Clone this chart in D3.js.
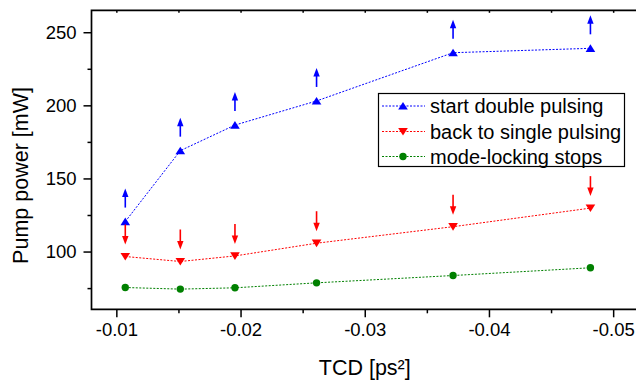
<!DOCTYPE html>
<html>
<head>
<meta charset="utf-8">
<script src="https://cdn.jsdelivr.net/npm/d3@7/dist/d3.min.js"></script>
<style>
  html, body { margin: 0; padding: 0; background: #fff; }
  svg { display: block; font-family: "Liberation Sans", Arial, sans-serif; }
</style>
</head>
<body>
<svg id="chart" width="636" height="380"></svg>
<script>
// ---- data ----
const tcd = [-0.01072, -0.01515, -0.01955, -0.02612, -0.03711, -0.04817];
const startDouble = [120.5, 169, 186.5, 203, 236, 239];
const backSingle = [96.6, 93.2, 97, 105.7, 117, 129.7];
const modeLockStops = [75.4, 74.3, 75.2, 78.6, 83.6, 88.9];
const seriesNames = ["start double pulsing", "back to single pulsing", "mode-locking stops"];
const xTickValues = [-0.01, -0.02, -0.03, -0.04, -0.05];
const xTickLabels = ["-0.01", "-0.02", "-0.03", "-0.04", "-0.05"];
const xMinorValues = [-0.015, -0.025, -0.035, -0.045];
const yTickValues = [100, 150, 200, 250];
const yTickLabels = ["100", "150", "200", "250"];
const yMinorValues = [75, 125, 175, 225];
const xTitle = "TCD [ps²]";
const yTitle = "Pump power [mW]";

// ---- layout ----
const L = 91.5, R = 638, T = 10.3, B = 309.3;
const svg = d3.select("#chart");
const x = d3.scaleLinear().domain([-0.008, -0.052]).range([L, R]);
const y = d3.scaleLinear().domain([60.5, 265]).range([B, T]);

const colors = ["#0000ff", "#ff0000", "#008000"];
const series = [startDouble, backSingle, modeLockStops];
const shapes = ["up", "down", "circle"];

// axes
const xAxis = d3.axisBottom(x).tickValues(xTickValues)
  .tickFormat((d, i) => xTickLabels[i]).tickSize(8).tickSizeOuter(0).tickPadding(6);
const gx = svg.append("g").attr("transform", `translate(0,${B})`).call(xAxis);
const xMinor = d3.axisBottom(x).tickValues(xMinorValues).tickFormat("").tickSize(4).tickSizeOuter(0);
const gxm = svg.append("g").attr("transform", `translate(0,${B})`).call(xMinor);

const yAxis = d3.axisLeft(y).tickValues(yTickValues)
  .tickFormat((d, i) => yTickLabels[i]).tickSize(8).tickSizeOuter(0).tickPadding(7);
const gy = svg.append("g").attr("transform", `translate(${L},0)`).call(yAxis);
const yMinor = d3.axisLeft(y).tickValues(yMinorValues).tickFormat("").tickSize(4).tickSizeOuter(0);
const gym = svg.append("g").attr("transform", `translate(${L},0)`).call(yMinor);

// top mirror ticks (small, inward)
const xTop = d3.axisBottom(x).tickValues(xTickValues.concat(xMinorValues)).tickFormat("").tickSize(2.5).tickSizeOuter(0);
const gxt = svg.append("g").attr("transform", `translate(0,${T})`).call(xTop);

[gx, gxm, gy, gym, gxt].forEach(g => {
  g.select(".domain").remove();
  g.selectAll("line").attr("stroke", "#000").attr("stroke-width", 1.5);
  g.selectAll("text").attr("fill", "#000").attr("font-size", 18.5)
    .attr("font-family", "'Liberation Sans', Arial, sans-serif");
});

// frame
svg.append("path")
  .attr("d", `M${R + 5},${T} L${L},${T} L${L},${B} L${R + 5},${B}`)
  .attr("fill", "none").attr("stroke", "#000").attr("stroke-width", 1.7);

// titles
svg.append("text").attr("x", (L + R) / 2).attr("y", 375)
  .attr("text-anchor", "middle").attr("font-size", 21.5).attr("fill", "#000").text(xTitle);
svg.append("text").attr("transform", "rotate(-90)")
  .attr("x", -175.5).attr("y", 27.5)
  .attr("text-anchor", "middle").attr("font-size", 21.5).attr("fill", "#000").text(yTitle);

// marker helper
function marker(g, shape, cx, cy, color) {
  if (shape === "up") {
    g.append("path").attr("d", `M${cx},${cy - 4} L${cx + 4.8},${cy + 3.6} L${cx - 4.8},${cy + 3.6} Z`).attr("fill", color);
  } else if (shape === "down") {
    g.append("path").attr("d", `M${cx},${cy + 4} L${cx + 4.8},${cy - 3.6} L${cx - 4.8},${cy - 3.6} Z`).attr("fill", color);
  } else {
    g.append("circle").attr("cx", cx).attr("cy", cy).attr("r", 3.7).attr("fill", color);
  }
}

// arrows
function arrow(g, cx, yTail, yTip, color) {
  const dir = yTip < yTail ? 1 : -1; // 1 = pointing up
  const headLen = 8.5, headW = 3.2;
  g.append("line").attr("x1", cx).attr("x2", cx)
    .attr("y1", yTail).attr("y2", yTip + dir * (headLen - 1))
    .attr("stroke", color).attr("stroke-width", 1.6);
  g.append("path")
    .attr("d", `M${cx},${yTip} L${cx + headW},${yTip + dir * headLen} L${cx - headW},${yTip + dir * headLen} Z`)
    .attr("fill", color);
}

const line = d3.line().x((d, i) => x(tcd[i])).y(d => y(d));

const plot = svg.append("g");
series.forEach((vals, si) => {
  plot.append("path").datum(vals).attr("d", line)
    .attr("fill", "none").attr("stroke", colors[si]).attr("stroke-width", 1)
    .attr("stroke-dasharray", "2,1.5");
});
const arrowsG = svg.append("g");
startDouble.forEach((v, i) => arrow(arrowsG, x(tcd[i]), y(v) - 14, y(v) - 33, colors[0]));
backSingle.forEach((v, i) => arrow(arrowsG, x(tcd[i]), y(v) - 32, y(v) - 12, colors[1]));

series.forEach((vals, si) => {
  const g = plot.append("g");
  vals.forEach((v, i) => marker(g, shapes[si], x(tcd[i]), y(v), colors[si]));
});

// legend
const lg = svg.append("g");
lg.append("rect").attr("x", 378.5).attr("y", 93.5).attr("width", 246).attr("height", 73)
  .attr("fill", "#fff").attr("stroke", "#000").attr("stroke-width", 1.2);
const rowY = [106, 131.5, 156.5];
seriesNames.forEach((name, si) => {
  const ry = rowY[si];
  lg.append("line").attr("x1", 382).attr("x2", 425).attr("y1", ry).attr("y2", ry)
    .attr("stroke", colors[si]).attr("stroke-width", 1).attr("stroke-dasharray", "2,1.5");
  marker(lg, shapes[si], 403, ry, colors[si]);
  lg.append("text").attr("x", 430).attr("y", ry).attr("dy", "0.35em")
    .attr("font-size", 20).attr("fill", "#000").text(name);
});
</script>
</body>
</html>
